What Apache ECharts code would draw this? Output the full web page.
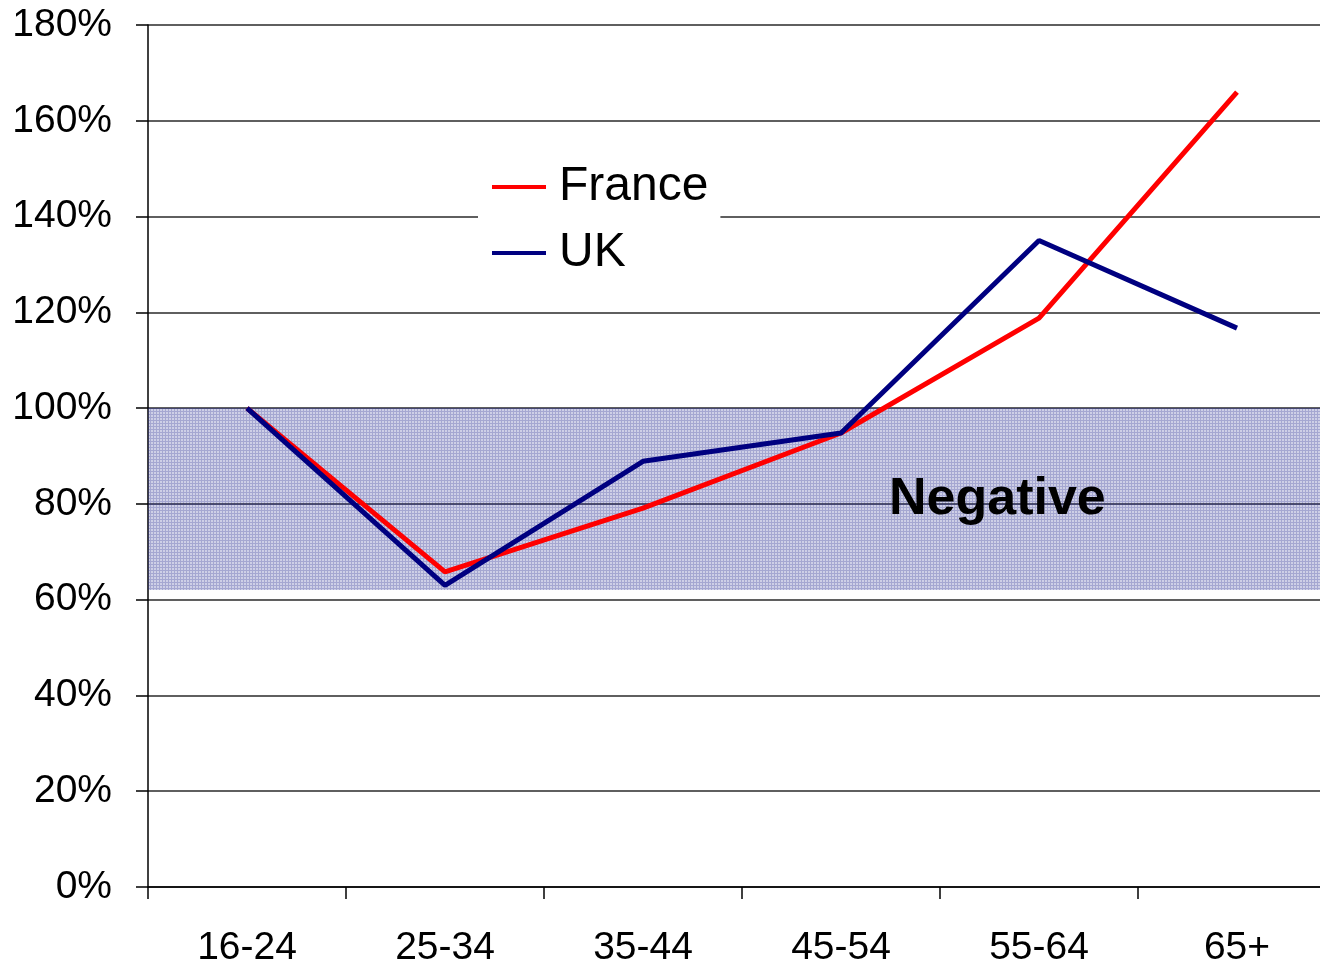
<!DOCTYPE html>
<html>
<head>
<meta charset="utf-8">
<script src="https://cdn.jsdelivr.net/npm/echarts@6/dist/echarts.min.js"></script>
<style>
  html, body { margin: 0; padding: 0; background: #fff; }
  #chart { width: 1320px; height: 964px; }
</style>
</head>
<body>
<div id="chart"></div>
<script>
// age groups
var categories = ['16-24', '25-34', '35-44', '45-54', '55-64', '65+'];
// values in %
var franceData = [100, 65.8, 79.1, 94.8, 118.8, 166];
var ukData = [100, 63, 88.9, 94.8, 135, 116.7];
// shaded "Negative" band (in %)
var bandFrom = 62;
var bandTo = 100;

// small dotted tile for the shaded band
function makePattern() {
    var c = document.createElement('canvas');
    c.width = 3;
    c.height = 3;
    var ctx = c.getContext('2d');
    ctx.fillStyle = 'rgba(30,35,140,0.40)';
    ctx.fillRect(0, 0, 3, 1);
    ctx.fillRect(0, 1, 1, 2);
    ctx.fillStyle = 'rgba(30,35,140,0.22)';
    ctx.fillRect(1, 1, 2, 2);
    return c;
}

var dom = document.getElementById('chart');
var myChart = echarts.init(dom);
var font = 'Arial, "Liberation Sans", sans-serif';

var option = {
    animation: false,
    grid: {
        left: 148,
        top: 25,
        width: 1188,
        bottom: 77,
        outerBoundsMode: 'none'
    },
    legend: {
        data: ['France', 'UK'],
        orient: 'vertical',
        left: 478,
        top: 157,
        padding: [6, 12, 6, 14],
        backgroundColor: '#fff',
        icon: 'rect',
        itemWidth: 54,
        itemHeight: 4,
        itemGap: 18,
        textStyle: {
            fontFamily: font,
            fontSize: 48,
            lineHeight: 46,
            color: '#000',
            padding: [0, 0, 0, 8]
        }
    },
    xAxis: {
        type: 'category',
        data: categories,
        boundaryGap: true,
        axisLine: { lineStyle: { color: '#000', width: 1.5 } },
        axisTick: { show: true, interval: 0, length: 12, lineStyle: { color: '#000', width: 1.5 } },
        axisLabel: {
            fontFamily: font,
            fontSize: 39,
            color: '#000',
            margin: 42,
            interval: 0
        }
    },
    yAxis: {
        type: 'value',
        min: 0,
        max: 180,
        interval: 20,
        axisLine: { show: true, lineStyle: { color: '#000', width: 1.5 } },
        axisTick: { show: true, length: 12, lineStyle: { color: '#000', width: 1.5 } },
        axisLabel: {
            fontFamily: font,
            fontSize: 39,
            color: '#000',
            margin: 36,
            formatter: '{value}%'
        },
        splitLine: { lineStyle: { color: '#2a2a2a', width: 1.5 } }
    },
    series: [
        {
            name: 'France',
            type: 'line',
            data: franceData,
            showSymbol: false,
            symbol: 'none',
            lineStyle: { color: '#ff0000', width: 5 },
            itemStyle: { color: '#ff0000' },
            z: 3,
            markArea: {
                silent: true,
                itemStyle: { color: { image: makePattern(), repeat: 'repeat' } },
                data: [[{ yAxis: bandTo }, { yAxis: bandFrom }]]
            }
        },
        {
            name: 'UK',
            type: 'line',
            data: ukData,
            showSymbol: false,
            symbol: 'none',
            lineStyle: { color: '#000080', width: 5 },
            itemStyle: { color: '#000080' },
            z: 4
        }
    ],
    graphic: [
        {
            type: 'text',
            left: 889,
            top: 474,
            z: 10,
            style: {
                text: 'Negative',
                font: 'bold 52px Arial, "Liberation Sans", sans-serif',
                fill: '#000'
            }
        }
    ]
};

myChart.setOption(option, true);
window.onresize = myChart.resize;
</script>
</body>
</html>
